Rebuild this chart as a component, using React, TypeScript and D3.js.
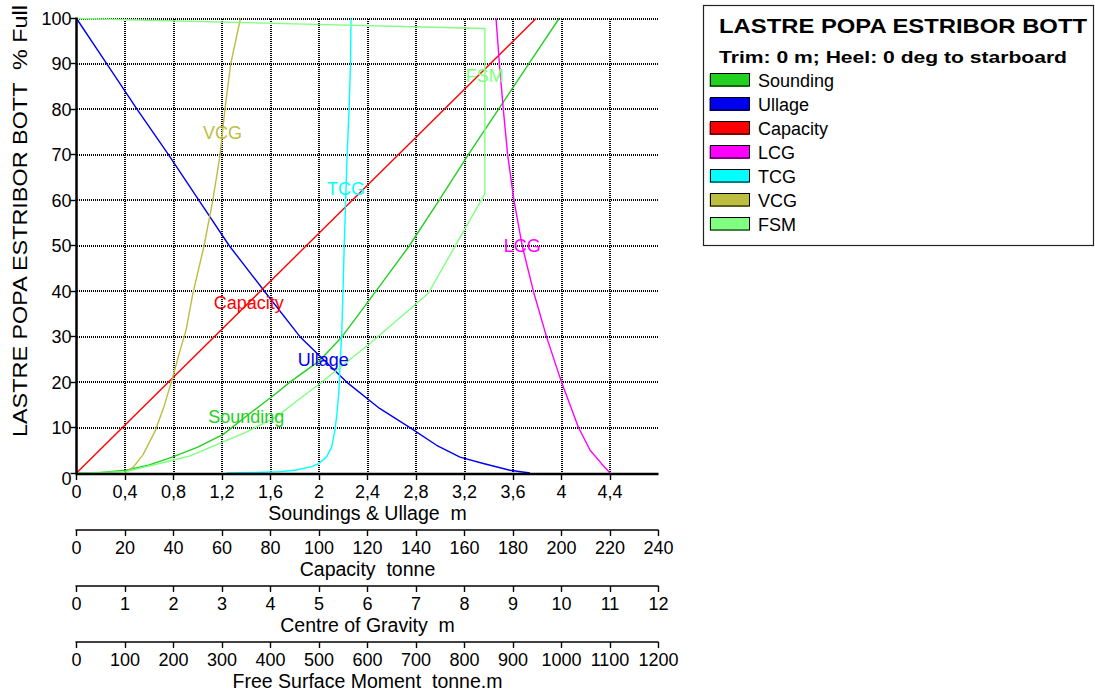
import React from "react";
import * as d3 from "d3";

// ---- data: each curve is a list of [axis value, % full] ----
const PCT_TICKS = [0, 10, 20, 30, 40, 50, 60, 70, 80, 90, 100];
const SOUNDING_TICKS = [0, 0.4, 0.8, 1.2, 1.6, 2, 2.4, 2.8, 3.2, 3.6, 4, 4.4];
const SOUNDING_TICK_LABELS = ["0", "0,4", "0,8", "1,2", "1,6", "2", "2,4", "2,8", "3,2", "3,6", "4", "4,4"];
const CAPACITY_TICKS = [0, 20, 40, 60, 80, 100, 120, 140, 160, 180, 200, 220, 240];
const COG_TICKS = [0, 1, 2, 3, 4, 5, 6, 7, 8, 9, 10, 11, 12];
const FSM_TICKS = [0, 100, 200, 300, 400, 500, 600, 700, 800, 900, 1000, 1100, 1200];

const SOUNDING: [number, number][] = [
  [0, 0], [0.2, 0.1], [0.41, 0.6], [0.6, 1.8], [0.79, 3.5], [1.0, 5.7], [1.21, 8.5],
  [1.4, 12.5], [1.645, 17.5], [1.76, 20], [2.0, 24.6], [2.19, 30], [2.47, 40],
  [2.745, 50], [2.99, 60], [3.23, 70], [3.48, 80], [3.73, 90], [3.98, 100],
];
const ULLAGE: [number, number][] = [
  [0, 100], [0.25, 90], [0.5, 80], [0.76, 70], [1.01, 60], [1.26, 50], [1.55, 40],
  [1.843, 30], [2.228, 20], [2.5, 14.2], [2.75, 10], [2.97, 6.1], [3.163, 3.5],
  [3.355, 2.1], [3.575, 0.6], [3.74, 0],
];
const CAPACITY: [number, number][] = [
  [0, 0], [189.5, 100],
];
const LCG: [number, number][] = [
  [11.0, 0], [10.83, 2], [10.59, 5], [10.35, 10], [10.0, 20], [9.69, 30], [9.42, 40],
  [9.19, 50], [9.02, 60], [8.89, 70], [8.8, 80], [8.72, 90], [8.65, 100],
];
const TCG: [number, number][] = [
  [3.1, 0], [3.7, 0.1], [4.2, 0.3], [4.5, 0.6], [4.85, 1.4], [5.0, 2.1], [5.16, 3.6],
  [5.26, 5.7], [5.33, 9.5], [5.37, 13], [5.41, 18], [5.44, 25], [5.47, 31], [5.5, 42],
  [5.52, 50], [5.55, 60], [5.58, 70], [5.62, 80], [5.65, 90], [5.66, 100],
];
const VCG: [number, number][] = [
  [1.0, 0], [1.02, 0.2], [1.17, 1.3], [1.37, 4], [1.62, 9.2], [1.8, 14.5], [1.96, 20.2],
  [2.11, 26], [2.26, 31.5], [2.4, 39.5], [2.63, 50], [2.81, 60], [2.96, 70], [3.06, 80],
  [3.18, 90], [3.38, 100],
];
const FSM: [number, number][] = [
  [0, 0], [50, 0.1], [102, 0.3], [198, 2.8], [233, 3.7], [350, 9], [411, 12.3],
  [461, 16.4], [502, 19.7], [605, 28.5], [725, 39.5], [842, 61.4], [842, 97.8], [0, 100],
];

const LEGEND_TITLE = "LASTRE POPA ESTRIBOR BOTT";
const LEGEND_SUBTITLE = "Trim: 0 m; Heel: 0 deg to starboard";
const Y_TITLE = "LASTRE POPA ESTRIBOR BOTT  % Full";

// ---- layout ----
const W = 1095;
const H = 693;
const PLOT_L = 76.5;
const PLOT_R = 658.5;
const PLOT_T = 18.5;
const PLOT_B = 473;
const FONT = "'Liberation Sans', Arial, Helvetica, sans-serif";

const y = d3.scaleLinear().domain([0, 100]).range([PLOT_B, PLOT_T]);
const xM = d3.scaleLinear().domain([0, 4.8]).range([PLOT_L, PLOT_R]);
const xCap = d3.scaleLinear().domain([0, 240]).range([PLOT_L, PLOT_R]);
const xCog = d3.scaleLinear().domain([0, 12]).range([PLOT_L, PLOT_R]);
const xFsm = d3.scaleLinear().domain([0, 1200]).range([PLOT_L, PLOT_R]);

type Series = {
  name: string;
  color: string;
  data: [number, number][];
  scale: d3.ScaleLinear<number, number>;
  labelPct: number;
};

const SERIES: Series[] = [
  { name: "Sounding", color: "#22D022", data: SOUNDING, scale: xM, labelPct: 12.5 },
  { name: "Ullage", color: "#0000F0", data: ULLAGE, scale: xM, labelPct: 25 },
  { name: "Capacity", color: "#FF0000", data: CAPACITY, scale: xCap, labelPct: 37.5 },
  { name: "LCG", color: "#FF00FF", data: LCG, scale: xCog, labelPct: 50 },
  { name: "TCG", color: "#00FFFF", data: TCG, scale: xCog, labelPct: 62.5 },
  { name: "VCG", color: "#BDBD40", data: VCG, scale: xCog, labelPct: 75 },
  { name: "FSM", color: "#80FF80", data: FSM, scale: xFsm, labelPct: 87.5 },
];

// value of a curve at a given % full (linear interpolation along the polyline)
function valueAtPct(data: [number, number][], p: number): number {
  for (let i = 0; i < data.length - 1; i++) {
    const [v0, p0] = data[i];
    const [v1, p1] = data[i + 1];
    if ((p >= p0 && p <= p1) || (p <= p0 && p >= p1)) {
      if (p1 === p0) return v0;
      return v0 + ((p - p0) / (p1 - p0)) * (v1 - v0);
    }
  }
  return data[data.length - 1][0];
}

const crisp = (v: number) => Math.round(v - 0.5) + 0.5;
const whole = (v: number) => Math.round(v);

function BottomAxis({
  scale, ticks, labels, lineY, title, thick,
}: {
  scale: d3.ScaleLinear<number, number>;
  ticks: number[];
  labels?: string[];
  lineY: number;
  title: string;
  thick?: boolean;
}) {
  const [r0, r1] = scale.range();
  return (
    <g>
      <line x1={r0 - 1} x2={r1} y1={lineY} y2={lineY} stroke="#000" strokeWidth={thick ? 2.5 : 1.6} />
      {ticks.map((t, i) => (
        <g key={i}>
          <line x1={crisp(scale(t))} x2={crisp(scale(t))} y1={lineY} y2={lineY + 6} stroke="#000" strokeWidth={1.4} />
          <text x={scale(t)} y={lineY + 23.5} textAnchor="middle" fontSize={18} fontFamily={FONT} fill="#000">
            {labels ? labels[i] : String(t)}
          </text>
        </g>
      ))}
      <text x={(r0 + r1) / 2} y={lineY + 45.5} textAnchor="middle" fontSize={19.5} fontFamily={FONT} fill="#000" style={{ whiteSpace: "pre" }}>
        {title}
      </text>
    </g>
  );
}

export default function App() {
  const line = (s: Series) =>
    d3.line<[number, number]>().x((d) => s.scale(d[0])).y((d) => y(d[1]))(s.data) || "";

  return (
    <svg width={W} height={H} style={{ position: "absolute", left: 0, top: 0, background: "#fff" }}>
      <rect x={0} y={0} width={W} height={H} fill="#fff" />

      {/* dotted grid */}
      <g shapeRendering="crispEdges">
        {SOUNDING_TICKS.filter((t) => t > 0).map((t) => (
          <line key={"v" + t} x1={whole(xM(t))} x2={whole(xM(t))} y1={Math.round(PLOT_T)} y2={PLOT_B}
            stroke="#000" strokeWidth={2} strokeDasharray="1 1" />
        ))}
        {PCT_TICKS.filter((t) => t > 0).map((t) => (
          <line key={"h" + t} x1={Math.round(PLOT_L)} x2={PLOT_R} y1={whole(y(t))} y2={whole(y(t))}
            stroke="#000" strokeWidth={2} strokeDasharray="1 1" />
        ))}
      </g>

      {/* curves */}
      <g fill="none" strokeWidth={1.4} strokeLinejoin="round">
        {SERIES.map((s) => (
          <path key={s.name} d={line(s)} stroke={s.color} />
        ))}
      </g>

      {/* in-plot curve names */}
      <g>
        {SERIES.map((s) => (
          <text key={s.name} x={s.scale(valueAtPct(s.data, s.labelPct))} y={y(s.labelPct) + 6.5}
            textAnchor="middle" fontSize={18} fontFamily={FONT} fill={s.color}>
            {s.name}
          </text>
        ))}
      </g>

      {/* left axis */}
      <line x1={PLOT_L} x2={PLOT_L} y1={PLOT_T - 1} y2={PLOT_B + 1} stroke="#000" strokeWidth={2.5} />
      {PCT_TICKS.map((t) => (
        <g key={"yt" + t}>
          <line x1={PLOT_L - 6} x2={PLOT_L} y1={crisp(y(t))} y2={crisp(y(t))} stroke="#000" strokeWidth={1.4} />
          <text x={PLOT_L - 5} y={y(t) + 6.5 + (t === 0 ? 5 : 0)} textAnchor="end" fontSize={18}
            fontFamily={FONT} fill="#000">
            {t}
          </text>
        </g>
      ))}
      <text transform={`translate(27,437) rotate(-90)`} fontSize={20} fontFamily={FONT} fill="#000"
        textLength={432} lengthAdjust="spacingAndGlyphs" style={{ whiteSpace: "pre" }}>
        {Y_TITLE}
      </text>

      {/* bottom axes */}
      <BottomAxis scale={xM} ticks={SOUNDING_TICKS} labels={SOUNDING_TICK_LABELS} lineY={474} title="Soundings & Ullage  m" thick />
      <BottomAxis scale={xCap} ticks={CAPACITY_TICKS} lineY={530} title="Capacity  tonne" />
      <BottomAxis scale={xCog} ticks={COG_TICKS} lineY={586} title="Centre of Gravity  m" />
      <BottomAxis scale={xFsm} ticks={FSM_TICKS} lineY={642} title="Free Surface Moment  tonne.m" />

      {/* legend */}
      <g>
        <rect x={703.5} y={5.5} width={390} height={240} fill="#fff" stroke="#222" strokeWidth={1.2} />
        <text x={719} y={33} fontSize={21} fontWeight="bold" fontFamily={FONT} fill="#000"
          textLength={368} lengthAdjust="spacingAndGlyphs">
          {LEGEND_TITLE}
        </text>
        <text x={719} y={63} fontSize={17} fontWeight="bold" fontFamily={FONT} fill="#000"
          textLength={348} lengthAdjust="spacingAndGlyphs">
          {LEGEND_SUBTITLE}
        </text>
        {SERIES.map((s, i) => {
          const top = 73 + i * 24;
          return (
            <g key={s.name}>
              <rect x={709.5} y={top + 1} width={40} height={13} fill={s.color} />
              <rect x={710.5} y={top + 0.5} width={39} height={12.5} fill={s.color} stroke="#000" strokeWidth={1} />
              <text x={758} y={top + 14} fontSize={18} fontFamily={FONT} fill="#000">
                {s.name}
              </text>
            </g>
          );
        })}
      </g>
    </svg>
  );
}
